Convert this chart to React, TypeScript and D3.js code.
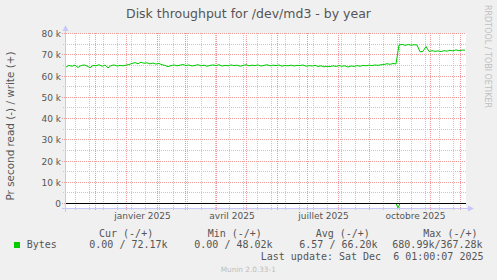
import React from "react";
import * as d3 from "d3";

const W = 497;
const H = 280;

// time window shown (400 days up to last update)
const start = new Date(2024, 10, 1, 1, 0, 7);
const end = new Date(2025, 11, 6, 1, 0, 7);

// write bytes per second (k), one sample every 3 days from start
const writeStepDays = 3;
const writeValues = [
  64.2, 65.0, 64.6, 65.1, 64.0, 64.9, 65.2, 64.7, 63.9, 65.0,
  64.8, 65.3, 64.6, 65.1, 63.8, 64.9, 65.2, 64.7, 65.0, 64.8,
  65.1, 65.4, 65.9, 66.3, 65.8, 66.5, 66.0, 66.2, 65.7, 66.1,
  65.6, 65.9, 65.3, 65.0, 64.4, 64.9, 65.2, 64.8, 65.1, 65.4,
  64.9, 65.2, 64.7, 65.0, 65.3, 64.8, 65.1, 64.6, 65.0, 65.2,
  64.9, 65.3, 64.7, 65.0, 64.8, 65.2, 64.9, 65.1, 64.6, 65.0,
  65.3, 64.8, 65.1, 64.9, 65.2, 64.7, 65.0, 65.3, 64.8, 65.1,
  64.9, 65.2, 64.6, 65.0, 64.8, 65.1, 64.7, 65.0, 64.9, 65.2,
  64.6, 64.9, 64.7, 65.0, 64.5, 64.8, 64.3, 64.6, 64.4, 64.8,
  64.5, 64.9, 64.6, 64.8, 64.2, 64.7, 64.5, 64.9, 64.6, 65.0,
  64.8, 65.1, 64.9, 65.2, 65.0, 65.3, 65.4, 65.8, 65.5, 65.9,
  65.7, 74.6, 74.9, 74.4, 74.8, 74.5, 74.7, 74.6, 71.4, 71.6,
  73.9, 71.5, 71.9, 71.6, 71.8, 71.5, 71.9, 71.7, 72.1, 71.8,
  72.3, 71.9, 72.2, 72.17,
];

// read bytes per second (k), drawn below zero
const readDays = [0, 330, 332, 334, 399];
const readValues = [0, 0, 2.0, 0, 0];

const yTicks = [0, 10, 20, 30, 40, 50, 60, 70, 80];
const yMinorTicks = [5, 15, 25, 35, 45, 55, 65, 75];
const xLabelMonths = [
  new Date(2025, 0, 1),
  new Date(2025, 3, 1),
  new Date(2025, 6, 1),
  new Date(2025, 9, 1),
];
const xLabels = ["janvier 2025", "avril 2025", "juillet 2025", "octobre 2025"];

const legendHeaders = ["Cur (-/+)", "Min (-/+)", "Avg (-/+)", "Max (-/+)"];
const legendValues = ["0.00 / 72.17k", "0.00 / 48.02k", "6.57 / 66.20k", "680.99k/367.28k"];
const headerX = [99, 207.7, 315.7, 423.3];
const valueX = [89.3, 194.3, 299.3, 392.3];

const left = 66;
const right = 466;
const top = 33;
const bottom = 208;

const textColor = "#555555";
const minorColor = "#c8c8c8";
const majorColor = "#ef9a9a";
const axisColor = "#c8c8f8";

const px = (v: number) => Math.floor(v) + 0.5;

const App = () => {
  const x = d3.scaleTime().domain([start, end]).range([left, right]);
  const y = d3.scaleLinear().domain([0, 80000]).range([203.5, 33.5]);

  const months = d3.timeMonth.range(start, end);
  const biweeks = d3.timeMonday.range(start, end).filter((d, i) => i % 2 === 1);

  const writeLine = d3
    .line<number>()
    .x((d, i) => x(d3.timeDay.offset(start, i * writeStepDays)))
    .y((d) => y(d * 1000));

  const readLine = d3
    .line<number>()
    .x((d, i) => x(d3.timeDay.offset(start, readDays[i])))
    .y((d) => y(-d * 1000));

  return (
    <svg
      width={W}
      height={H}
      style={{ position: "absolute", left: 0, top: 0, display: "block" }}
      fontFamily="DejaVu Sans"
    >
      <rect width={W} height={H} fill="#f0f0f0" />
      <rect x={left} y={top} width={right - left} height={bottom - top} fill="#ffffff" />

      {/* minor grid */}
      {biweeks.map((d, i) => (
        <line key={"mv" + i} x1={px(x(d))} x2={px(x(d))} y1={top} y2={211}
          stroke={minorColor} strokeDasharray="1,1" />
      ))}
      {yMinorTicks.map((v, i) => (
        <line key={"mh" + i} x1={63} x2={right} y1={px(y(v * 1000))} y2={px(y(v * 1000))}
          stroke={minorColor} strokeDasharray="1,1" />
      ))}

      {/* major grid */}
      {months.map((d, i) => (
        <line key={"Mv" + i} x1={px(x(d))} x2={px(x(d))} y1={top} y2={211}
          stroke={majorColor} strokeDasharray="1,1" />
      ))}
      {yTicks.map((v, i) => (
        <line key={"Mh" + i} x1={62} x2={right} y1={px(y(v * 1000))} y2={px(y(v * 1000))}
          stroke={majorColor} strokeDasharray="1,1" />
      ))}

      {/* series */}
      <path d={readLine(readValues) || ""} fill="none" stroke="#00cc00" strokeWidth={1} />
      <line x1={left} x2={right} y1={y(0)} y2={y(0)} stroke="#000000" strokeWidth={1} />
      <path d={writeLine(writeValues) || ""} fill="none" stroke="#00cc00" strokeWidth={1} />

      {/* axes */}
      <line x1={62} x2={469} y1={208.5} y2={208.5} stroke={axisColor} />
      <polygon points="468,205.5 474,208.5 468,211.5" fill={axisColor} />
      <line x1={65.5} x2={65.5} y1={212} y2={30} stroke={axisColor} />
      <polygon points="62.5,31 65.5,25 68.5,31" fill={axisColor} />

      {/* y tick labels */}
      {yTicks.map((v, i) => (
        <text key={"yl" + i} x={61} y={px(y(v * 1000)) + 3.3} textAnchor="end"
          fontSize={9} fill={textColor}>
          {v === 0 ? "0" : `${v} k`}
        </text>
      ))}

      {/* x labels centred on their month */}
      {xLabelMonths.map((d, i) => {
        const mid = (x(d) + x(d3.timeMonth.offset(d, 1))) / 2;
        return (
          <text key={"xl" + i} x={mid} y={219} textAnchor="middle" fontSize={9} fill={textColor}>
            {xLabels[i]}
          </text>
        );
      })}

      {/* title */}
      <text x={248.5} y={18} textAnchor="middle" fontSize={12.5} fill={textColor}>
        Disk throughput for /dev/md3 - by year
      </text>

      {/* vertical axis title */}
      <text transform="translate(13.8,126) rotate(-90)" textAnchor="middle" fontSize={10.4} fill={textColor}>
        Pr second read (-) / write (+)
      </text>

      {/* watermark */}
      <text transform="translate(485,5) rotate(90)" fontSize={8} fill="#c0c0c0">
        RRDTOOL / TOBI OETIKER
      </text>

      {/* legend */}
      <g fontFamily="DejaVu Sans Mono" fontSize={10} fill={textColor}>
        {legendHeaders.map((t, i) => (
          <text key={"lh" + i} x={headerX[i]} y={236.5}>{t}</text>
        ))}
        <rect x={14} y={242} width={6} height={6} fill="#00cc00" />
        <text x={26.7} y={248.3}>Bytes</text>
        {legendValues.map((t, i) => (
          <text key={"lv" + i} x={valueX[i]} y={248.3}>{t}</text>
        ))}
        <text x={483.5} y={260} textAnchor="end" xmlSpace="preserve" style={{ whiteSpace: "pre" }}>
          {"Last update: Sat Dec \u00A06 01:00:07 2025"}
        </text>
      </g>

      <text x={248.3} y={272.3} textAnchor="middle" fontSize={7.3} fill="#bdbdbd">
        Munin 2.0.33-1
      </text>
    </svg>
  );
};

export default App;
